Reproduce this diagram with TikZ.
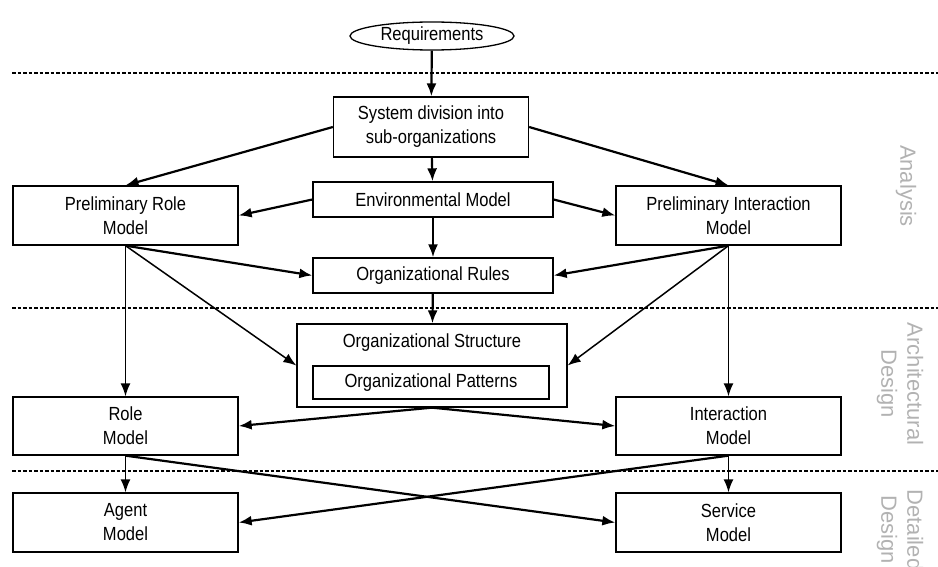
\documentclass[tikz,border=0pt]{standalone}
\usepackage{fontspec}
\setmainfont[FakeStretch=0.87]{Liberation Sans}
\newfontfamily\stagefont{Liberation Sans}
\usetikzlibrary{arrows.meta,shapes.geometric}

\tikzset{
  box/.style={draw, line width=1.3pt, align=center, inner sep=0pt,
    font=\fontsize{19}{24}\selectfont},
  flow/.style={-{Latex[length=13pt,width=10pt]}, line width=2.2pt},
  thinflow/.style={-{Latex[length=13pt,width=10pt]}, line width=1.5pt},
  phase/.style={dash pattern=on 3.5pt off 2pt, line width=1.5pt},
  stage/.style={rotate=-90, align=center, text=black!30,
    font=\stagefont\fontsize{22}{26}\selectfont}
}

\begin{document}
\begin{tikzpicture}[x=1pt,y=-1pt]
\useasboundingbox (0,0) rectangle (938,567);

\draw[phase] (12,73) -- (938,73);
\draw[phase] (12,308) -- (938,308);
\draw[phase] (12,471) -- (938,471);

\node[box, ellipse, minimum width=164, minimum height=28] (req) at (432,36) {Requirements};
\node[box, minimum width=195, minimum height=60] (sysdiv) at (431,127) {System division into\\sub-organizations};
\node[box, minimum width=240, minimum height=35] (env) at (433,199.5) {Environmental Model};
\node[box, minimum width=225, minimum height=59] (prole) at (125.5,215.5) {Preliminary Role\\Model};
\node[box, minimum width=225, minimum height=59] (pinter) at (728.5,215.5) {Preliminary Interaction\\Model};
\node[box, minimum width=240, minimum height=35] (rules) at (433,275.5) {Organizational Rules};

\node[box, minimum width=270, minimum height=83] (orgstruct) at (432,365.5) {};
\node[font=\fontsize{19}{24}\selectfont] (orgtitle) at (432,343) {Organizational Structure};
\node[box, minimum width=236, minimum height=33] (patterns) at (431,382.5) {Organizational Patterns};

\node[box, minimum width=225, minimum height=58] (role) at (125.5,426) {Role\\Model};
\node[box, minimum width=225, minimum height=58] (inter) at (728.5,426) {Interaction\\Model};
\node[box, minimum width=225, minimum height=59] (agent) at (125.5,522.5) {Agent\\Model};
\node[box, minimum width=225, minimum height=59] (service) at (728.5,522.5) {Service\\Model};

\node[stage] (analysis) at (906,186) {Analysis};
\node[stage] (archdesign) at (900,384) {Architectural\\Design};
\node[stage] (detdesign) at (900,530) {Detailed\\Design};

\draw[flow] (req) -- (sysdiv);
\draw[flow] (sysdiv.west) -- (prole.north);
\draw[flow] (sysdiv.east) -- (pinter.north);
\draw[flow] (sysdiv) -- (env);
\draw[flow] (env.west) -- (prole.east);
\draw[flow] (env.east) -- (pinter.west);
\draw[flow] (env) -- (rules);
\draw[flow] (prole.south) -- (rules.west);
\draw[flow] (pinter.south) -- (rules.east);
\draw[flow] (rules) -- (orgstruct);
\draw[thinflow] (prole.south) -- (orgstruct.west);
\draw[thinflow] (pinter.south) -- (orgstruct.east);
\draw[thinflow] (prole.south) -- (role.north);
\draw[thinflow] (pinter.south) -- (inter.north);
\draw[flow] (orgstruct.south) -- (role.east);
\draw[flow] (orgstruct.south) -- (inter.west);
\draw[thinflow] (role.south) -- (agent.north);
\draw[thinflow] (inter.south) -- (service.north);
\draw[flow] (role.south) -- (service.west);
\draw[flow] (inter.south) -- (agent.east);
\end{tikzpicture}
\end{document}
